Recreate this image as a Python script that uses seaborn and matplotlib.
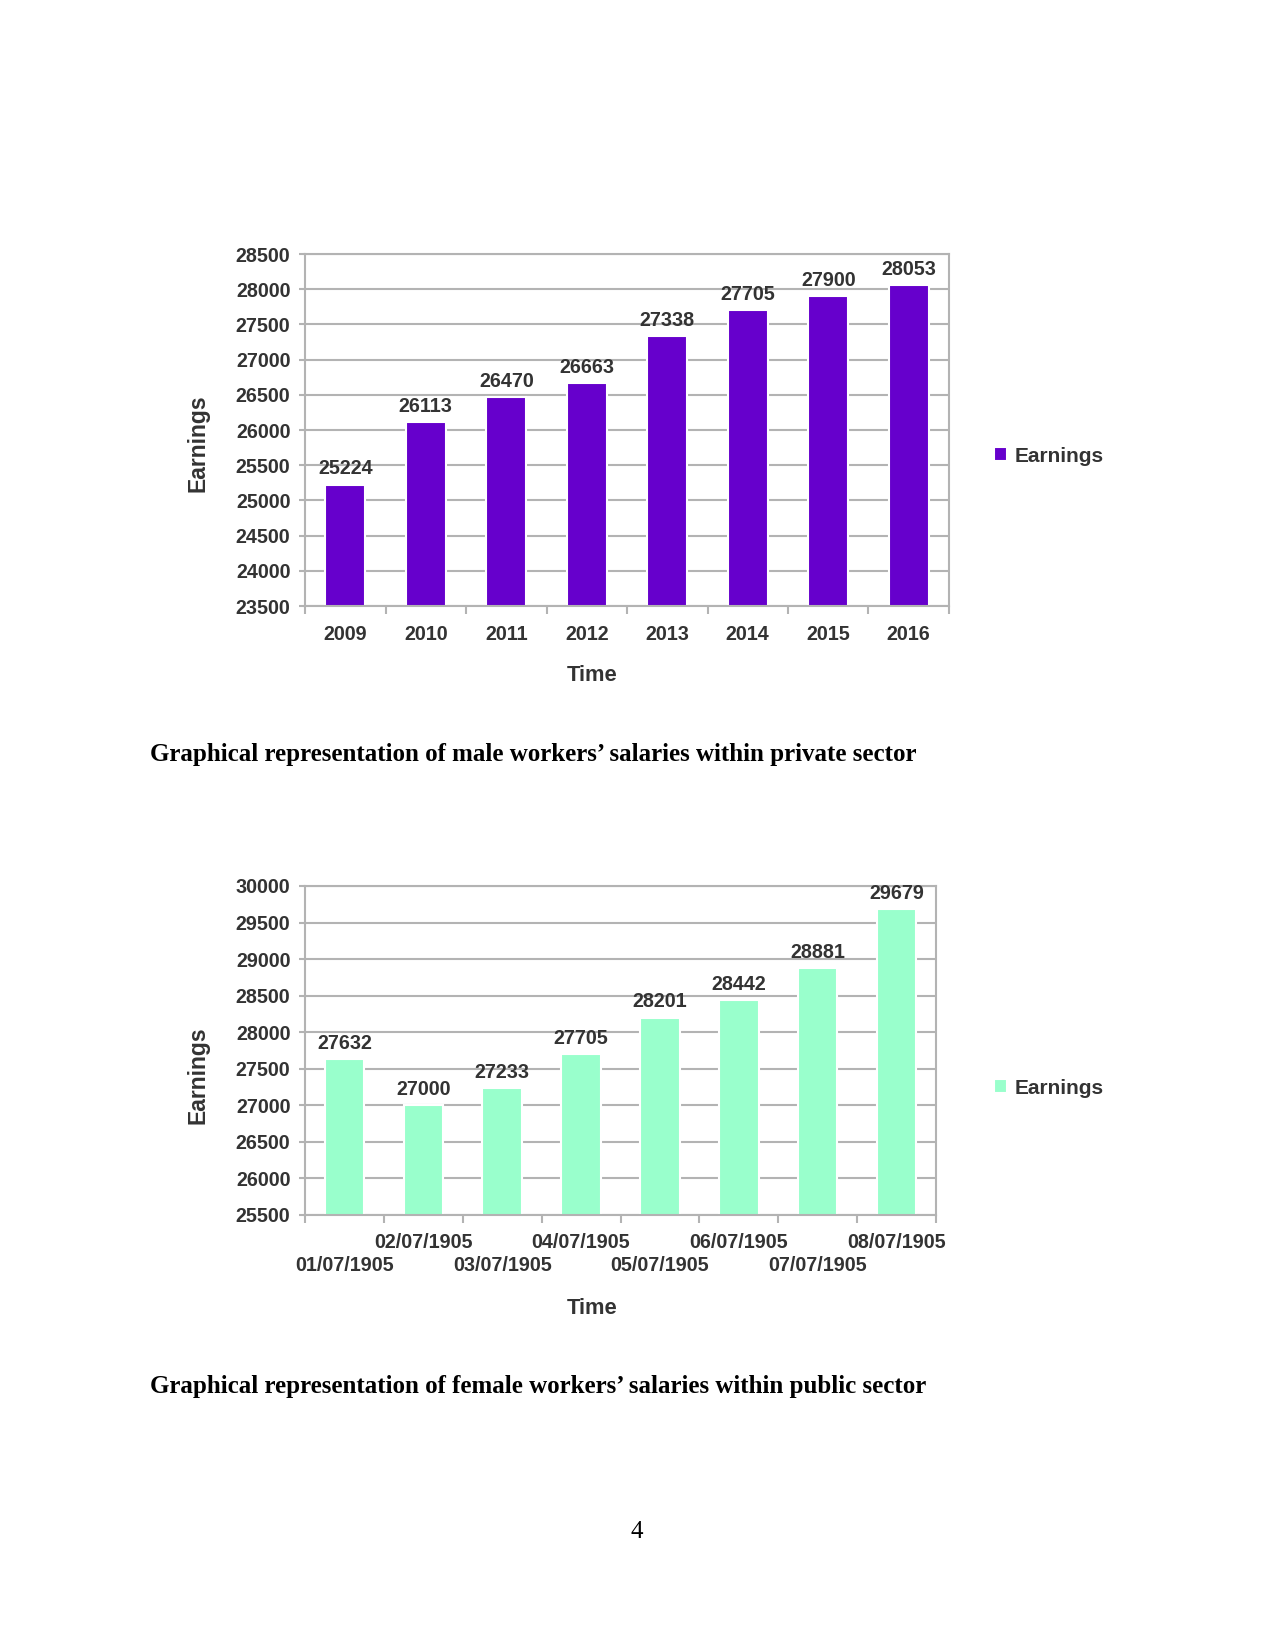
"""Two bar charts of earnings (private male / public female) on a letter-size page."""
import matplotlib
matplotlib.use("Agg")
import matplotlib.pyplot as plt
import pandas as pd
import seaborn as sns

years = ["2009", "2010", "2011", "2012", "2013", "2014", "2015", "2016"]
male_private = [25224, 26113, 26470, 26663, 27338, 27705, 27900, 28053]
male_ticks = list(range(23500, 28501, 500))

dates = ["01/07/1905", "02/07/1905", "03/07/1905", "04/07/1905",
         "05/07/1905", "06/07/1905", "07/07/1905", "08/07/1905"]
female_public = [27632, 27000, 27233, 27705, 28201, 28442, 28881, 29679]
female_ticks = list(range(25500, 30001, 500))

captions = [
    "Graphical representation of male workers\u2019 salaries within private sector",
    "Graphical representation of female workers\u2019 salaries within public sector",
]

TEXT = "#333333"
GRID = "#b3b3b3"
W, H = 1275, 1651

sns.set_style("white")
plt.rcParams["font.family"] = ["Liberation Sans", "DejaVu Sans"]
plt.rcParams["font.weight"] = "bold"


def fx(px):
    return px / W


def fy(py):
    return 1 - py / H


def draw_chart(fig, box, labels, values, color, yticks, stagger, legend_y, time_y, earn_y):
    left, top, right, bottom = box
    ax = fig.add_axes([fx(left), fy(bottom), fx(right) - fx(left), fy(top) - fy(bottom)])
    df = pd.DataFrame({"Time": labels, "Earnings": values})
    sns.barplot(data=df, x="Time", y="Earnings", color=color, width=0.5,
                saturation=1, label="Earnings", ax=ax)
    ax.set_ylim(yticks[0], yticks[-1])
    ax.set_xlim(-0.5, len(labels) - 0.5)
    ax.set_yticks(yticks)
    ax.set_axisbelow(True)
    ax.yaxis.grid(True, color=GRID, lw=1)
    for s in ax.spines.values():
        s.set_color(GRID)
        s.set_linewidth(1)

    # category separators on x, small outward ticks on y
    ax.set_xticks([i - 0.5 for i in range(len(labels) + 1)], minor=True)
    ax.tick_params(axis="x", which="minor", length=4, color=GRID, width=1, direction="out")
    ax.tick_params(axis="x", which="major", length=0, pad=9, labelsize=9.5, labelcolor=TEXT)
    ax.tick_params(axis="y", length=3, color=GRID, width=1, pad=4, labelsize=9.5, labelcolor=TEXT)
    ax.tick_params(axis="both", which="both", bottom=True, left=True)

    if stagger:
        # odd categories on the upper row, even ones on a lower row
        ax.set_xticks(range(1, len(labels), 2))
        ax.set_xticklabels(labels[1::2])
        ax.tick_params(axis="x", which="major", pad=8.5)
        low = ax.secondary_xaxis("bottom")
        low.set_xticks(range(0, len(labels), 2))
        low.set_xticklabels(labels[0::2])
        low.tick_params(axis="x", length=0, pad=19.5, labelsize=9.5, labelcolor=TEXT)
        low.spines["bottom"].set_visible(False)
        for t in low.get_xticklabels():
            t.set_fontweight("bold")
    for t in ax.get_xticklabels() + ax.get_yticklabels():
        t.set_fontweight("bold")

    ax.bar_label(ax.containers[0], fmt="%d", padding=3, fontsize=9.5,
                 color=TEXT, fontweight="bold")

    ax.set_xlabel("Time", fontsize=10.5, color=TEXT, fontweight="bold")
    ax.xaxis.set_label_coords(fx(592), fy(time_y), transform=fig.transFigure)
    ax.set_ylabel("Earnings", fontsize=11, color=TEXT, fontweight="bold")
    ax.yaxis.set_label_coords(fx(198), fy(earn_y), transform=fig.transFigure)
    ax.xaxis.label.set_va("center")
    ax.yaxis.label.set_va("center")

    ax.legend(loc="center left", bbox_to_anchor=(fx(994), fy(legend_y)),
              bbox_transform=fig.transFigure, frameon=False, borderpad=0,
              borderaxespad=0, handlelength=0.62, handleheight=0.62,
              handletextpad=0.35, prop={"size": 10, "weight": "bold"},
              labelcolor=TEXT)
    return ax


fig = plt.figure(figsize=(W / 150, H / 150), dpi=150)

draw_chart(fig, (305, 254, 949, 606), years, male_private, "#6600cc", male_ticks,
           False, 456, 676, 443)
draw_chart(fig, (305, 886, 936, 1215), dates, female_public, "#99ffcc", female_ticks,
           True, 1088, 1308, 1075)

fig.text(fx(150), fy(754), captions[0], va="center", ha="left",
         family="Liberation Serif", fontweight="bold", fontsize=12, color="black")
fig.text(fx(150), fy(1386), captions[1], va="center", ha="left",
         family="Liberation Serif", fontweight="bold", fontsize=12, color="black")
fig.text(fx(637), fy(1532), "4", va="center", ha="center",
         family="Liberation Serif", fontweight="normal", fontsize=12, color="black")

fig.savefig("out.png", dpi=150, facecolor="white")
